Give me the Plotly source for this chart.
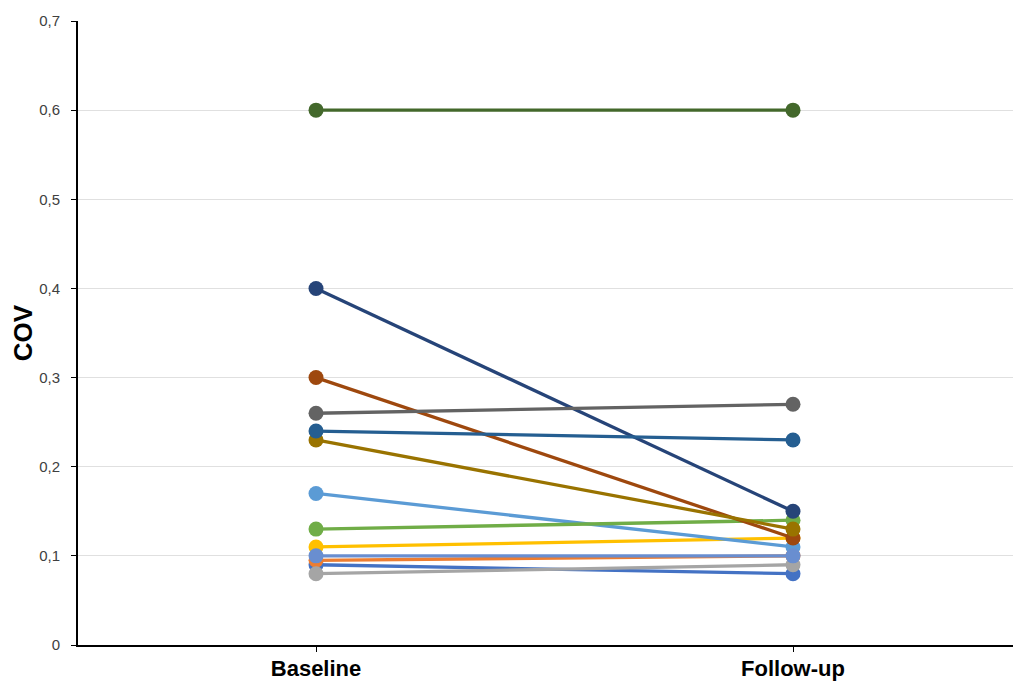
import plotly.graph_objects as go

categories = ["Baseline", "Follow-up"]
colors = ["#4472C4", "#ED7D31", "#A5A5A5", "#FFC000", "#5B9BD5", "#70AD47",
          "#264478", "#9E480E", "#636363", "#997300", "#255E91", "#43682B", "#698ED0"]
baseline = [0.09, 0.095, 0.08, 0.11, 0.17, 0.13, 0.40, 0.30, 0.26, 0.23, 0.24, 0.60, 0.10]
followup = [0.08, 0.10, 0.09, 0.12, 0.11, 0.14, 0.15, 0.12, 0.27, 0.13, 0.23, 0.60, 0.10]
ytick_vals = [0, 0.1, 0.2, 0.3, 0.4, 0.5, 0.6, 0.7]
ytick_text = ["0", "0,1", "0,2", "0,3", "0,4", "0,5", "0,6", "0,7"]

fig = go.Figure()
for i, c in enumerate(colors):
    fig.add_trace(go.Scatter(
        x=[0, 1], y=[baseline[i], followup[i]], mode="lines+markers",
        line=dict(color=c, width=3.3), marker=dict(color=c, size=15),
        showlegend=False, hoverinfo="y"))

fig.update_layout(
    width=1013, height=673,
    margin=dict(l=70, r=0, t=13, b=36, autoexpand=False),
    plot_bgcolor="white", paper_bgcolor="white",
    font=dict(family="Liberation Sans, Arial, sans-serif", color="black"),
    xaxis=dict(range=[-0.499, 1.478], tickvals=[0, 1],
               ticktext=["<b>" + c + "</b>" for c in categories],
               tickfont=dict(size=22, color="black"), automargin=False,
               showgrid=False, zeroline=False, showline=True, linecolor="black", linewidth=2,
               ticks="outside", ticklen=5, tickcolor="black", ticklabelstandoff=-2),
    yaxis=dict(range=[0, 0.7], tickvals=ytick_vals, ticktext=ytick_text,
               tickfont=dict(size=15, color="#404040"), automargin=False,
               showgrid=True, gridcolor="#e0e0e0", gridwidth=1, zeroline=False,
               showline=True, linecolor="black", linewidth=2,
               ticks="outside", ticklen=5, tickcolor="black", ticklabelstandoff=8,
               title=dict(text="<b>COV</b>", font=dict(size=26, color="black"), standoff=6)),
)
fig.write_html("out.html")
